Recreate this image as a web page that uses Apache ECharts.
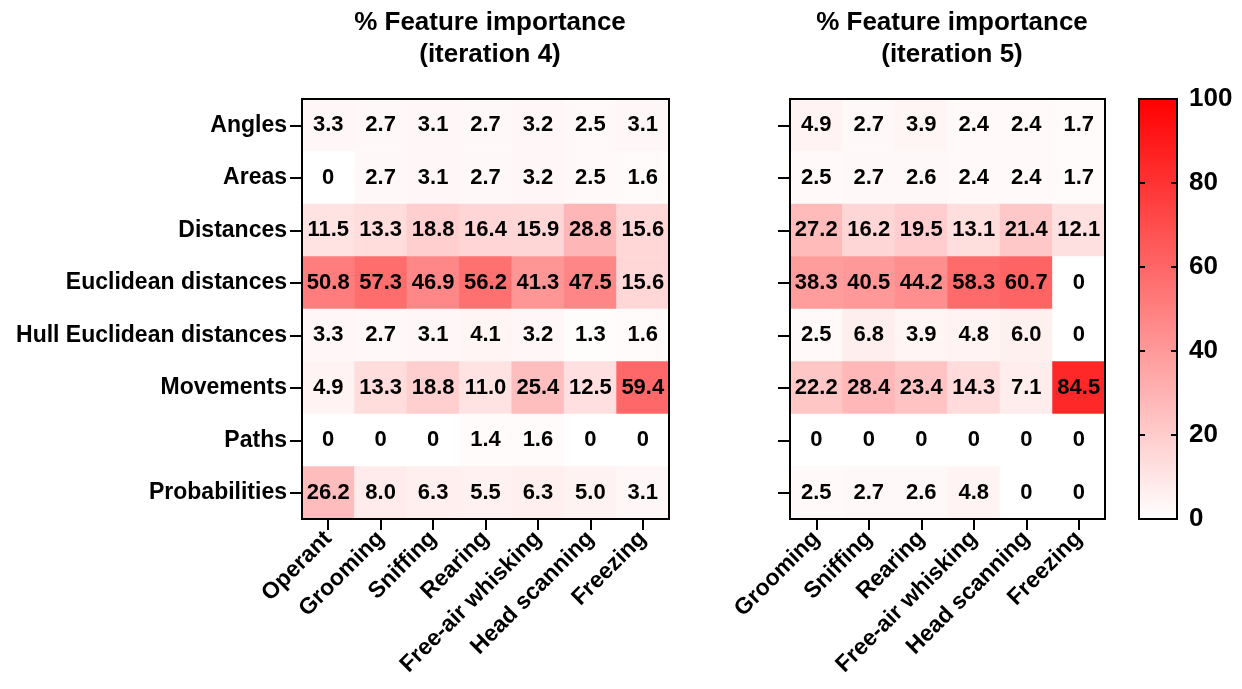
<!DOCTYPE html>
<html>
<head>
<meta charset="utf-8">
<script src="https://cdn.jsdelivr.net/npm/echarts@6/dist/echarts.min.js"></script>
<style>
  html, body { margin: 0; padding: 0; background: #fff; }
  #featureHeatmap { width: 1242px; height: 689px; }
</style>
</head>
<body>
<div id="featureHeatmap"></div>
<script>
  // feature groups (rows, top to bottom)
  const featureNames = ['Angles', 'Areas', 'Distances', 'Euclidean distances',
    'Hull Euclidean distances', 'Movements', 'Paths', 'Probabilities'];

  // behaviours (columns)
  const iter4Behaviors = ['Operant', 'Grooming', 'Sniffing', 'Rearing', 'Free-air whisking', 'Head scanning', 'Freezing'];
  const iter5Behaviors = ['Grooming', 'Sniffing', 'Rearing', 'Free-air whisking', 'Head scanning', 'Freezing'];

  // % feature importance, one row per feature group
  const iter4Values = [
    [3.3, 2.7, 3.1, 2.7, 3.2, 2.5, 3.1],
    [0, 2.7, 3.1, 2.7, 3.2, 2.5, 1.6],
    [11.5, 13.3, 18.8, 16.4, 15.9, 28.8, 15.6],
    [50.8, 57.3, 46.9, 56.2, 41.3, 47.5, 15.6],
    [3.3, 2.7, 3.1, 4.1, 3.2, 1.3, 1.6],
    [4.9, 13.3, 18.8, 11.0, 25.4, 12.5, 59.4],
    [0, 0, 0, 1.4, 1.6, 0, 0],
    [26.2, 8.0, 6.3, 5.5, 6.3, 5.0, 3.1]
  ];
  const iter5Values = [
    [4.9, 2.7, 3.9, 2.4, 2.4, 1.7],
    [2.5, 2.7, 2.6, 2.4, 2.4, 1.7],
    [27.2, 16.2, 19.5, 13.1, 21.4, 12.1],
    [38.3, 40.5, 44.2, 58.3, 60.7, 0],
    [2.5, 6.8, 3.9, 4.8, 6.0, 0],
    [22.2, 28.4, 23.4, 14.3, 7.1, 84.5],
    [0, 0, 0, 0, 0, 0],
    [2.5, 2.7, 2.6, 4.8, 0, 0]
  ];

  const colorScale = { min: 0, max: 100, interval: 20 };

  const fontFam = "'Liberation Sans', Arial, sans-serif";

  function toCells(rows) {
    const out = [];
    for (let r = 0; r < rows.length; r++) {
      for (let c = 0; c < rows[r].length; c++) {
        out.push([c, r, rows[r][c]]);
      }
    }
    return out;
  }

  function cellText(p) {
    const v = p.value[2];
    return v === 0 ? '0' : v.toFixed(1);
  }

  const blackLine = { show: true, onZero: false, lineStyle: { color: '#000', width: 2 } };

  function catX(idx, names) {
    return {
      type: 'category', gridIndex: idx, data: names, z: 12,
      axisLine: blackLine,
      axisTick: { show: true, alignWithLabel: true, length: 11, lineStyle: { color: '#000', width: 2 } },
      axisLabel: { rotate: 45, margin: 16, color: '#000', fontSize: 23, fontWeight: 'bold', fontFamily: fontFam, interval: 0 },
      splitLine: { show: false }
    };
  }

  function catY(idx, showLabels) {
    return {
      type: 'category', gridIndex: idx, data: featureNames, inverse: true, z: 12,
      axisLine: blackLine,
      axisTick: { show: true, alignWithLabel: true, length: 12, lineStyle: { color: '#000', width: 2 } },
      axisLabel: { show: showLabels, margin: 15, color: '#000', fontSize: 23, fontWeight: 'bold', fontFamily: fontFam, interval: 0 },
      splitLine: { show: false }
    };
  }

  // colour-bar scale: ticks point inward on both edges, labels only on the right
  function barAxis(pos, showLabels) {
    return {
      type: 'value', gridIndex: 2, position: pos, z: 12,
      min: colorScale.min, max: colorScale.max, interval: colorScale.interval,
      axisLine: blackLine,
      axisTick: { show: true, inside: true, length: 6, lineStyle: { color: '#000', width: 2 } },
      axisLabel: { show: showLabels, margin: 12, color: '#000', fontSize: 26, fontWeight: 'bold', fontFamily: fontFam },
      splitLine: { show: false }
    };
  }

  const cellLabel = {
    show: true, formatter: cellText, color: '#000',
    fontSize: 22, fontWeight: 'bold', fontFamily: fontFam
  };

  const myEcharts = echarts.init(document.getElementById('featureHeatmap'));
  const options = {
    animation: false,
    backgroundColor: '#fff',
    title: [{
      text: '% Feature importance\n(iteration 4)',
      left: 485, top: 2, textAlign: 'center',
      textStyle: { fontSize: 26, fontWeight: 'bold', color: '#000', fontFamily: fontFam, lineHeight: 32 }
    }, {
      text: '% Feature importance\n(iteration 5)',
      left: 947, top: 2, textAlign: 'center',
      textStyle: { fontSize: 26, fontWeight: 'bold', color: '#000', fontFamily: fontFam, lineHeight: 32 }
    }],
    grid: [
      { left: 302, top: 99, width: 367, height: 420, show: true, borderColor: '#000', borderWidth: 2, z: 10, backgroundColor: 'transparent' },
      { left: 790, top: 99, width: 315, height: 420, show: true, borderColor: '#000', borderWidth: 2, z: 10, backgroundColor: 'transparent' },
      // colour bar frame + scale
      { left: 1139, top: 99, width: 38, height: 420, show: true, borderColor: '#000', borderWidth: 2, z: 10, backgroundColor: 'transparent' }
    ],
    xAxis: [
      catX(0, iter4Behaviors),
      catX(1, iter5Behaviors),
      { type: 'value', gridIndex: 2, show: false, min: 0, max: 1 }
    ],
    yAxis: [
      catY(0, true),
      catY(1, false),
      barAxis('right', true),
      barAxis('left', false)
    ],
    visualMap: {
      type: 'continuous',
      min: colorScale.min, max: colorScale.max,
      seriesIndex: [0, 1],
      calculable: false,
      orient: 'vertical',
      left: 1139, top: 99,
      itemWidth: 38, itemHeight: 420,
      padding: 0,
      z: 2,
      showLabel: false,
      inRange: { color: ['#ffffff', '#ff0000'] }
    },
    series: [{
      type: 'heatmap', xAxisIndex: 0, yAxisIndex: 0,
      data: toCells(iter4Values),
      label: cellLabel,
      itemStyle: { borderWidth: 0 },
      emphasis: { disabled: true }
    }, {
      type: 'heatmap', xAxisIndex: 1, yAxisIndex: 1,
      data: toCells(iter5Values),
      label: cellLabel,
      itemStyle: { borderWidth: 0 },
      emphasis: { disabled: true }
    }]
  };
  myEcharts.setOption(options, true);
</script>
</body>
</html>
